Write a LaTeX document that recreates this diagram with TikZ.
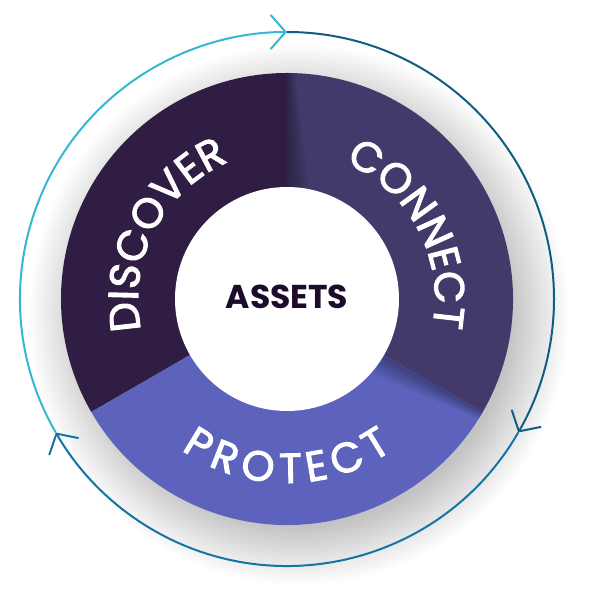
\documentclass[tikz,border=0pt]{standalone}
\usepackage{fontspec}
\usetikzlibrary{arrows.meta,decorations.text}
\newfontfamily\ringfont{Poppins}[FakeBold=2.5]
\newfontfamily\hubfont{Poppins}
\newcommand\ringstyle{\fontsize{42}{42}\selectfont\ringfont}
\definecolor{discover}{HTML}{2F1D43}
\definecolor{connect}{HTML}{433A6B}
\definecolor{protect}{HTML}{5D63BD}
\definecolor{hubtext}{HTML}{1D0B2C}
\definecolor{arccyan}{HTML}{35B6D4}
\definecolor{arcteal}{HTML}{0F5E80}
\definecolor{arcblue}{HTML}{1474A3}
\begin{document}
\begin{tikzpicture}[x=1pt,y=1pt,
	loop arc/.style={draw=#1, line width=2pt, -{Straight Barb[length=15pt,width=34pt,line width=2pt]}},
	ring label/.style={decorate, decoration={text along path, text align=center, text color=white, text={#1}}}]
	\useasboundingbox (-287,-310) rectangle (301,299);
	%Coordinates
	\coordinate (hub) at (0,0);
	\coordinate (arrowtop) at (90:267);
	\coordinate (arrowright) at (-30:267);
	\coordinate (arrowleft) at (210:267);

	%Shadow
	\foreach \i in {0,...,29}
		\fill[black, opacity=0.009] (12,-16) circle ({270-2*\i});

	%Sectors
	\fill[discover] (hub) -- (90:226) arc[start angle=90, end angle=210, radius=226] -- cycle;
	\fill[connect] (hub) -- (-30:226) arc[start angle=-30, end angle=90, radius=226] -- cycle;
	\fill[protect] (hub) -- (210:226) arc[start angle=210, end angle=330, radius=226] -- cycle;

	%Shade along dividers
	\foreach \rot in {90,-30}
		\foreach \k in {1,...,8}
			\fill[black, opacity=0.045, rotate=\rot] (112,0) -- (226,0) -- (226,-\k) -- (112,{-2.8*\k}) -- cycle;

	%Hub
	\fill[white] (hub) circle (112);
	\node[text=hubtext, font=\fontsize{33}{33}\selectfont\hubfont\bfseries] (assets) at (0,2) {ASSETS};

	%Labels
	\path[ring label={|\ringstyle|DISCOVER}] (200:149) arc[start angle=200, end angle=105, radius=149];
	\path[ring label={|\ringstyle|CONNECT}] (75:148) arc[start angle=75, end angle=-19, radius=148];
	\path[decorate, decoration={text effects along path, text={PROTECT},
		text effects/.cd, text along path, fit text to path,
		characters={text=white, font=\ringstyle, anchor=base, inner sep=0pt}}]
		(235:184) arc[start angle=235, end angle=305, radius=184];

	%Arrows
	\draw[loop arc=arccyan] (arrowleft) arc[start angle=210, end angle=90, radius=267];
	\draw[loop arc=arcteal] (arrowtop) arc[start angle=90, end angle=-30, radius=267];
	\draw[loop arc=arcblue] (arrowright) arc[start angle=-30, end angle=-150, radius=267];
\end{tikzpicture}
\end{document}
